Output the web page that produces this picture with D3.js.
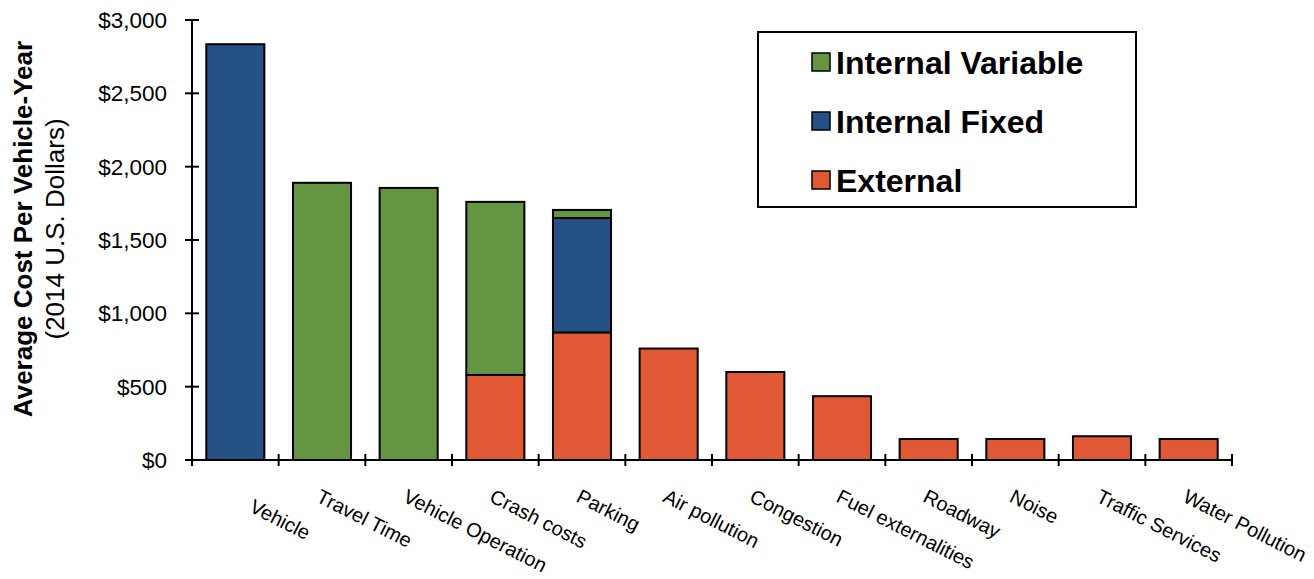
<!DOCTYPE html>
<html><head><meta charset="utf-8">
<script src="https://cdn.jsdelivr.net/npm/d3@7"></script>
<style>
html,body{margin:0;padding:0;background:#fff;}
svg{display:block;font-family:"Liberation Sans",Arial,sans-serif;}
</style></head>
<body>
<svg id="chart" width="1314" height="579"></svg>
<script>
const categories = ["    Vehicle","Travel Time","Vehicle Operation","Crash costs","Parking","Air pollution","Congestion","Fuel externalities","Roadway","Noise","Traffic Services","Water Pollution"];
const external = [0,0,0,580,870,760,600,435,143,143,162,143];
const internalFixed = [2835,0,0,0,780,0,0,0,0,0,0,0];
const internalVariable = [0,1890,1855,1180,55,0,0,0,0,0,0,0];
const seriesNames = ["External","Internal Fixed","Internal Variable"];
const seriesColors = ["#E05934","#255086","#659443"];
const yTicks = [0,500,1000,1500,2000,2500,3000];

(function(){
const svg = d3.select("#chart");
const pLeft = 192, pRight = 1232, pTop = 20, pBottom = 460;

const x = d3.scaleBand().domain(d3.range(categories.length)).range([pLeft,pRight]).paddingInner(0.33).paddingOuter(0.165);
const xb = d3.scaleLinear().domain([0,categories.length]).range([pLeft,pRight]);
const y = d3.scaleLinear().domain([0,3000]).range([pBottom,pTop]);

const rows = categories.map((c,i)=>({i, "External":external[i], "Internal Fixed":internalFixed[i], "Internal Variable":internalVariable[i]}));
const stack = d3.stack().keys(seriesNames)(rows);

stack.forEach((s,k)=>{
  svg.append("g").selectAll("rect").data(s.filter(d=>d[1]-d[0]>0)).join("rect")
    .attr("x", d=>x(d.data.i))
    .attr("width", x.bandwidth())
    .attr("y", d=>y(d[1]))
    .attr("height", d=>y(d[0])-y(d[1]))
    .attr("fill", seriesColors[k])
    .attr("stroke","#000").attr("stroke-width",2);
});

// Y axis
const ya = svg.append("g");
ya.append("line").attr("x1",pLeft).attr("x2",pLeft).attr("y1",pTop).attr("y2",pBottom).attr("stroke","#000").attr("stroke-width",2);
ya.selectAll("line.t").data(yTicks).join("line").attr("class","t")
  .attr("x1",pLeft-7).attr("x2",pLeft+7).attr("y1",d=>y(d)).attr("y2",d=>y(d)).attr("stroke","#000").attr("stroke-width",2);
ya.selectAll("text").data(yTicks).join("text")
  .attr("x",167).attr("y",d=>y(d)).attr("dy","0.36em").attr("text-anchor","end")
  .attr("font-size",22.5).attr("fill","#000")
  .text(d=>"$"+d3.format(",")(d));

// X axis
const xa = svg.append("g");
xa.append("line").attr("x1",pLeft).attr("x2",pRight).attr("y1",pBottom).attr("y2",pBottom).attr("stroke","#000").attr("stroke-width",2);
xa.selectAll("line.t").data(d3.range(categories.length+1)).join("line").attr("class","t")
  .attr("x1",d=>xb(d)).attr("x2",d=>xb(d)).attr("y1",pBottom-6).attr("y2",pBottom+6).attr("stroke","#000").attr("stroke-width",2);
xa.selectAll("text").data(categories).join("text")
  .attr("transform",(d,i)=>`translate(${x(i)+x.bandwidth()/2-7},501) rotate(27)`)
  .attr("text-anchor","start").attr("font-size",20).attr("fill","#000")
  .style("white-space","pre")
  .text(d=>d);

// Y title
const yt = svg.append("text").attr("transform","translate(32,229) rotate(-90)").attr("text-anchor","middle");
yt.append("tspan").attr("x",0).attr("y",0).attr("font-weight","bold").attr("font-size",26).text("Average Cost Per Vehicle-Year");
yt.append("tspan").attr("x",0).attr("y",32).attr("font-size",26).text("(2014 U.S. Dollars)");

// Legend
const lg = svg.append("g");
lg.append("rect").attr("x",758).attr("y",32).attr("width",378).attr("height",175).attr("fill","#fff").attr("stroke","#000").attr("stroke-width",2);
const legendOrder = [2,1,0];
legendOrder.forEach((k,j)=>{
  const cy = 62 + j*59;
  lg.append("rect").attr("x",812).attr("y",cy-9).attr("width",18).attr("height",18).attr("fill",seriesColors[k]).attr("stroke","#000").attr("stroke-width",1.5);
  lg.append("text").attr("x",836).attr("y",cy+12).attr("font-size",32).attr("font-weight","bold").attr("fill","#000").text(seriesNames[k]);
});
})();
</script>
</body></html>
